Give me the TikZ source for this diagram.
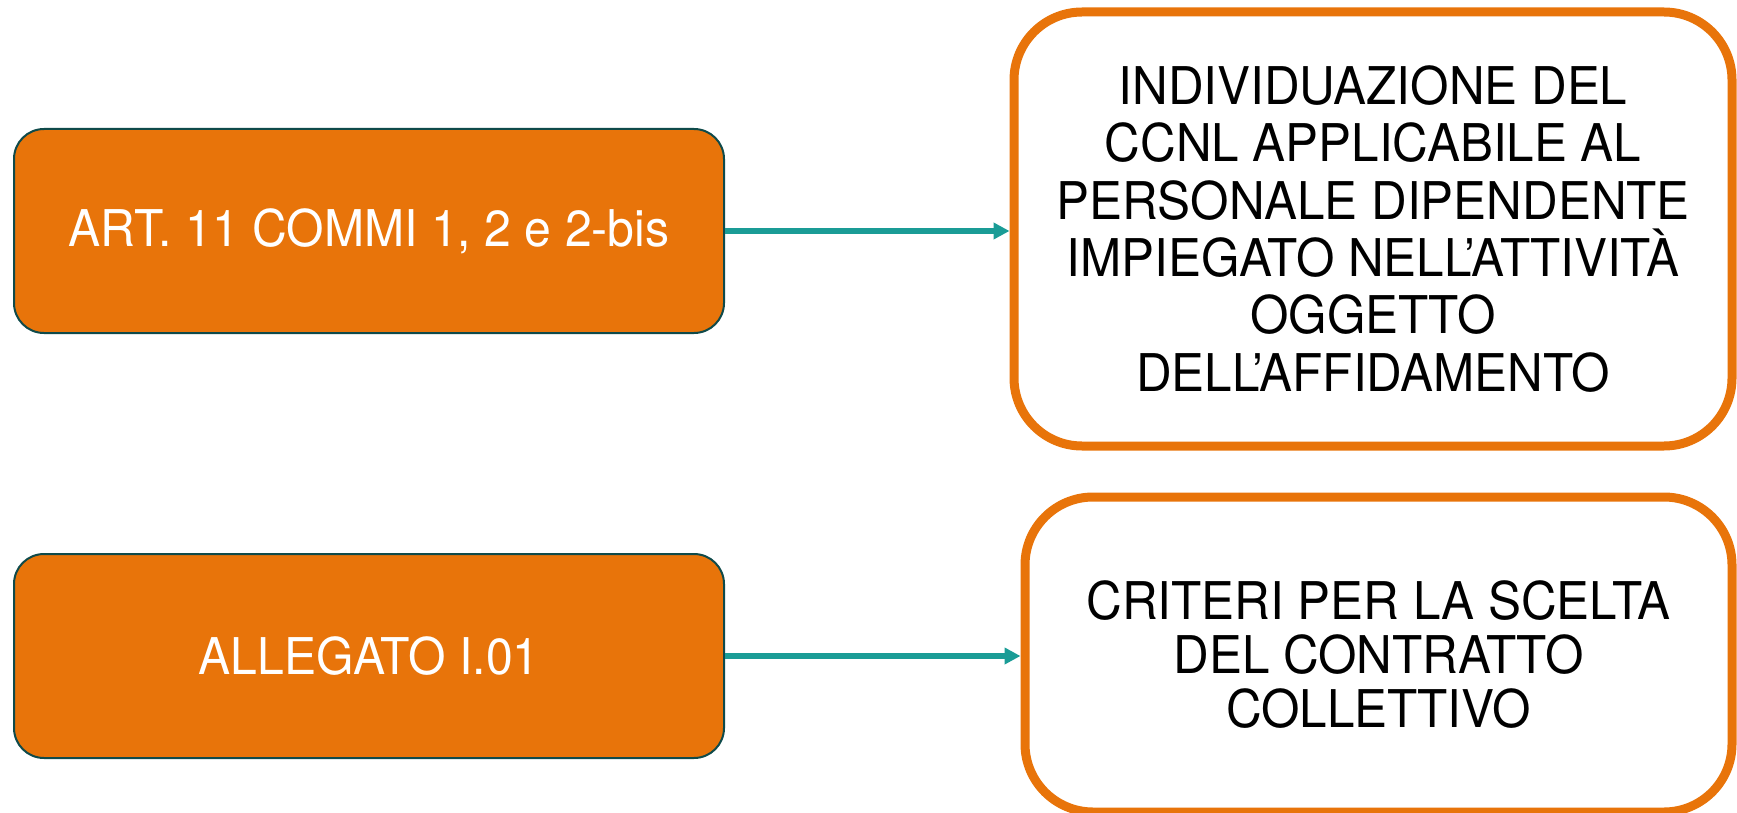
\documentclass[tikz,border=0pt]{standalone}
\usepackage{fontspec}
\setmainfont{TeX Gyre Heros}[FakeStretch=0.95]
\usetikzlibrary{arrows.meta}
\definecolor{boxorange}{HTML}{E8740A}
\definecolor{darkteal}{HTML}{0F4A4A}
\definecolor{arrowteal}{HTML}{1A9C96}
\begin{document}
\begin{tikzpicture}[x=0.75pt,y=-0.75pt]
\tikzstyle{source}=[draw=darkteal,line width=1.5pt,fill=boxorange,rounded corners=22.5pt,
  minimum width=532.5pt,minimum height=153pt,text=white,font=\fontsize{38}{42}\selectfont]
\tikzstyle{target}=[draw=boxorange,line width=6.75pt,fill=white,rounded corners=51pt,
  align=center,font=\fontsize{39}{43}\selectfont]
\tikzstyle{link}=[arrowteal,line width=4.5pt,-{Triangle[length=12pt,width=12pt]}]
\useasboundingbox (0,0) rectangle (1737,813);
  % sources on the left
  \node[source] (art) at (369,231) {ART. 11 COMMI 1, 2 e 2-bis};
  \node[source] (allegato) at (369,656) {ALLEGATO I.01};
  % topics on the right
  \node[target,minimum width=538.5pt,minimum height=325.5pt] (ccnl) at (1373,229)
    {INDIVIDUAZIONE DEL\\CCNL APPLICABILE AL\\PERSONALE DIPENDENTE\\IMPIEGATO NELL’ATTIVITÀ\\OGGETTO\\DELL’AFFIDAMENTO};
  \node[target,minimum width=530.25pt,minimum height=236.25pt,
    font=\fontsize{39}{40.5}\selectfont] (criteri) at (1378.5,654.5)
    {CRITERI PER LA SCELTA\\DEL CONTRATTO\\COLLETTIVO};
  \foreach \source/\dest in {art/ccnl,allegato/criteri}
      \draw[link] (\source.east) -- (\source.east -| \dest.west);
\end{tikzpicture}
\end{document}
